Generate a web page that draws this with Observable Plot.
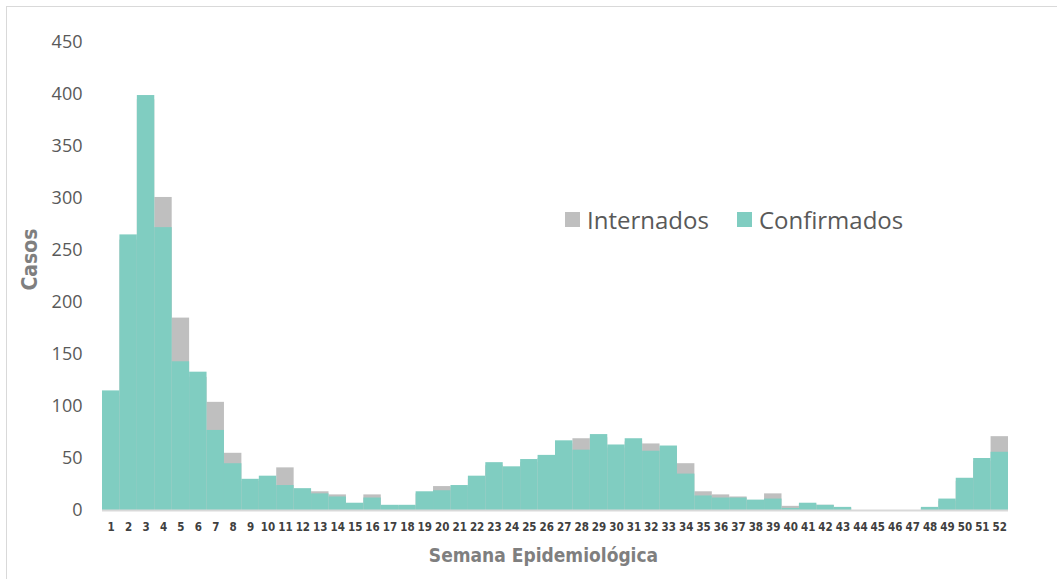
<!DOCTYPE html>
<html>
<head>
<meta charset="utf-8">
<script src="https://cdn.jsdelivr.net/npm/d3@7"></script>
<script src="https://cdn.jsdelivr.net/npm/@observablehq/plot@0.6"></script>
<style>
  html, body { margin: 0; padding: 0; background: #fff; }
  #wrap { position: relative; width: 1057px; height: 579px; overflow: hidden; }
  #frame { position: absolute; left: 6px; top: 6px; width: 1100px; height: 620px; border: 1.5px solid #d9d9d9; box-sizing: border-box; }
  #legend { position: absolute; left: 565px; top: 203px; font-family: "Open Sans", "Lato", sans-serif; font-size: 24px; color: #595959; display: flex; align-items: center; white-space: nowrap; }
  #legend .sw { display: inline-block; width: 15px; height: 15px; margin-right: 7px; }
  #legend .item { display: flex; align-items: center; margin-right: 28px; }
  #chart { position: absolute; left: 0; top: 0; }
</style>
</head>
<body>
<div id="wrap">
  <div id="frame"></div>
  <div id="chart"></div>
  <div id="legend">
    <span class="item"><span class="sw" style="background:#bfbfbf"></span>Internados</span>
    <span class="item"><span class="sw" style="background:#80cdc1"></span>Confirmados</span>
  </div>
</div>
<script>
const weeks = d3.range(1, 53);
const confirmados = [115, 265, 399, 272, 143, 133, 77, 45, 30, 33, 24, 21, 16, 13, 7, 12, 5, 5, 18, 19,
  24, 33, 46, 42, 49, 53, 67, 58, 73, 63, 69, 57, 62, 35, 14, 12, 12, 10, 11, 2,
  7, 5, 3, 0, 0, 0, 0, 3, 11, 31, 50, 56];
const internados = [110, 260, 395, 301, 185, 128, 104, 55, 28, 30, 41, 19, 18, 15, 6, 15, 4, 4, 16, 23,
  22, 30, 43, 40, 46, 50, 64, 69, 70, 60, 66, 64, 60, 45, 18, 15, 13, 9, 16, 4,
  6, 5, 2, 0, 0, 0, 0, 2, 9, 28, 47, 71];
const yTicks = [0, 50, 100, 150, 200, 250, 300, 350, 400, 450];

const data = weeks.map((w, i) => ({week: w, confirmados: confirmados[i], internados: internados[i]}));

const condensed = '"Liberation Sans Narrow", "DejaVu Sans Condensed", "Arial Narrow", sans-serif';

const chart = Plot.plot({
  width: 1057,
  height: 579,
  marginLeft: 102,
  marginRight: 49,
  marginTop: 42,
  marginBottom: 69,
  style: { background: "transparent", overflow: "visible" },
  x: { type: "band", domain: weeks, padding: 0, round: false },
  y: { domain: [0, 450] },
  marks: [
    Plot.barY(data, { x: "week", y: "internados", fill: "#bfbfbf", inset: 0 }),
    Plot.barY(data, { x: "week", y: "confirmados", fill: "#80cdc1", inset: 0 }),
    Plot.ruleY([0], { stroke: "#d9d9d9", strokeWidth: 2 }),
    Plot.axisY({ ticks: yTicks, tickSize: 0, tickPadding: 20, fontSize: 18, fill: "#595959",
      fontFamily: '"Open Sans", "Lato", sans-serif', label: null }),
    Plot.axisX({ tickSize: 0, tickPadding: 12, fontSize: 11.5, fill: "#404040", fontWeight: "bold",
      fontFamily: condensed, label: null }),
    Plot.text(["Casos"], { frameAnchor: "left", dx: -72, dy: 14, rotate: -90, fontSize: 21, fontWeight: "bold",
      fill: "#7f7f7f", fontFamily: condensed }),
    Plot.text(["Semana Epidemiológica"], { frameAnchor: "bottom", dx: -12, dy: 51, fontSize: 19, fontWeight: "bold",
      fill: "#7f7f7f", fontFamily: condensed })
  ]
});
document.getElementById("chart").appendChild(chart);
</script>
</body>
</html>
